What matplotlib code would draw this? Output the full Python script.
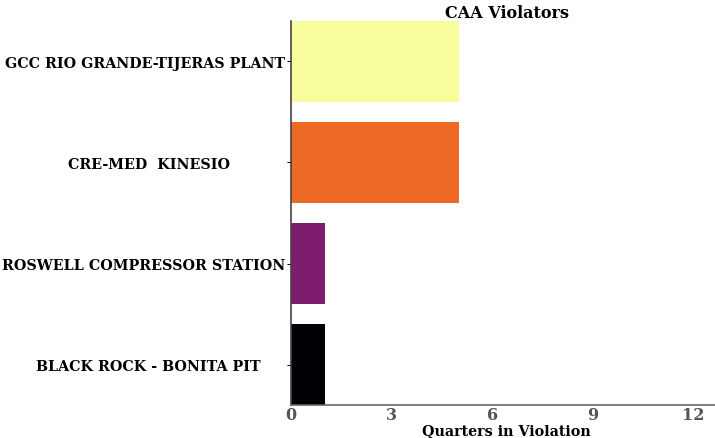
import matplotlib
matplotlib.use("Agg")
import matplotlib.pyplot as plt

facilities = [
    "BLACK ROCK - BONITA PIT     ",
    "ROSWELL COMPRESSOR STATION",
    "CRE-MED  KINESIO           ",
    "GCC RIO GRANDE-TIJERAS PLANT",
]
quarters = [1, 1, 5, 5]
colors = ["#000004", "#7e1c6d", "#ed6a25", "#f8fe9c"]
xticks = [0, 3, 6, 9, 12]

plt.rcParams["font.family"] = "DejaVu Serif"
fig = plt.figure(figsize=(7.15, 4.39), dpi=100)
ax = fig.add_axes((291 / 715, 1 - 406 / 439, 1 - 291 / 715 + 0.01, (406 - 22) / 439))

ypos = range(len(facilities))
ax.barh(ypos, quarters, height=0.8, color=colors)
ax.set_ylim(-0.4, 3.4)
ax.set_xlim(0, 12.85)

ax.set_yticks(list(ypos))
ax.set_yticklabels(facilities, fontsize=10.3, fontweight="bold")
ax.set_xticks(xticks)
ax.set_xticklabels([str(t) for t in xticks], fontsize=11.5, fontweight="bold", color="#555555")
ax.tick_params(axis="x", length=0, pad=1)
ax.tick_params(axis="y", length=3, pad=1)

ax.set_xlabel("Quarters in Violation", fontsize=10.3, fontweight="bold", labelpad=0)
ax.set_title("CAA Violators", fontsize=11.5, fontweight="bold", pad=0)

for s in ["top", "right"]:
    ax.spines[s].set_visible(False)
ax.spines["left"].set_color("#444444")
ax.spines["bottom"].set_color("#666666")
ax.spines["left"].set_linewidth(1.2)
ax.spines["bottom"].set_linewidth(1.2)

fig.savefig("out.png", dpi=100)
